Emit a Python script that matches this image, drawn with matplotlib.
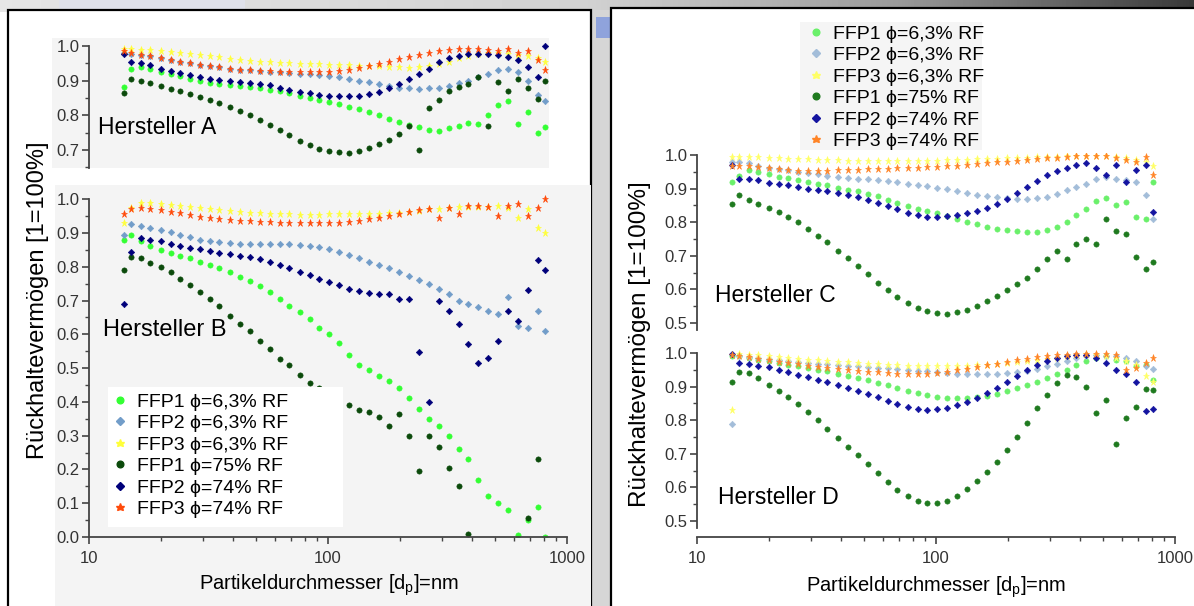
import numpy as np
import matplotlib
matplotlib.use('Agg')  # no display
import matplotlib.pyplot as plt
from matplotlib.patches import Rectangle
from matplotlib.lines import Line2D
from matplotlib.ticker import MultipleLocator, LogLocator, NullFormatter, FixedLocator

plt.rcParams['font.family'] = ['Liberation Sans', 'DejaVu Sans']

W, H = 1194, 606
nan = np.nan

# particle diameter in nm (shared by all panels)
diameter = [14, 15, 16.5, 18, 20, 22, 24, 26.5, 29, 32,
            35, 39, 43, 47, 52, 57, 63, 69, 76, 84,
            92, 101, 111, 122, 135, 148, 163, 180, 198, 218,
            240, 264, 290, 320, 352, 387, 426, 469, 516, 568,
            625, 688, 757, 810]

series_labels = ['FFP1 ϕ=6,3% RF', 'FFP2 ϕ=6,3% RF', 'FFP3 ϕ=6,3% RF',
                 'FFP1 ϕ=75% RF', 'FFP2 ϕ=74% RF', 'FFP3 ϕ=74% RF']

# Hersteller A
a_ffp1_63 = [0.883, 0.935, 0.94, 0.935, 0.925, 0.918, 0.912, 0.905, 0.898, 0.893,
             0.89, 0.887, 0.884, 0.881, 0.878, 0.874, 0.869, 0.864, 0.857, 0.85,
             0.845, 0.838, 0.832, 0.825, 0.818, 0.81, 0.8, 0.79, 0.782, 0.773,
             0.765, 0.758, 0.755, 0.762, 0.77, 0.778, 0.775, 0.8, 0.83, 0.84,
             0.775, 0.81, 0.75, 0.765]
a_ffp2_63 = [0.98, 0.978, 0.975, 0.97, 0.965, 0.96, 0.955, 0.95, 0.946, 0.942,
             0.938, 0.935, 0.932, 0.93, 0.928, 0.926, 0.924, 0.922, 0.92, 0.918,
             0.916, 0.914, 0.91, 0.905, 0.9, 0.895, 0.89, 0.885, 0.88, 0.878,
             0.877, 0.878, 0.88, 0.885, 0.892, 0.9, 0.91, 0.92, 0.93, 0.935,
             0.925, 0.9, 0.86, 0.84]
a_ffp3_63 = [0.99, 0.99, 0.988, 0.987, 0.985, 0.982, 0.979, 0.976, 0.973, 0.97,
             0.967, 0.963, 0.96, 0.957, 0.955, 0.953, 0.951, 0.95, 0.949, 0.948,
             0.947, 0.946, 0.945, 0.944, 0.943, 0.942, 0.941, 0.94, 0.938, 0.937,
             0.938, 0.942, 0.948, 0.955, 0.965, 0.972, 0.978, 0.98, 0.98, 0.978,
             0.975, 0.97, 0.965, 0.955]
a_ffp1_75 = [0.865, 0.905, 0.9, 0.893, 0.885, 0.877, 0.87, 0.862, 0.853, 0.844,
             0.835, 0.824, 0.812, 0.8, 0.787, 0.773, 0.757, 0.742, 0.727, 0.713,
             0.703, 0.697, 0.693, 0.692, 0.696, 0.705, 0.717, 0.73, 0.745, 0.77,
             0.7, 0.82, 0.845, 0.87, 0.882, 0.89, 0.91, 0.77, 0.895, 0.87,
             0.905, 0.88, 0.848, 0.9]
a_ffp2_74 = [0.976, 0.955, 0.952, 0.945, 0.935, 0.928, 0.922, 0.916, 0.91, 0.906,
             0.903, 0.9, 0.897, 0.894, 0.891, 0.886, 0.88, 0.874, 0.868, 0.863,
             0.859, 0.857, 0.855, 0.855, 0.857, 0.862, 0.868, 0.878, 0.89, 0.905,
             0.92, 0.935, 0.955, 0.965, 0.972, 0.976, 0.978, 0.976, 0.975, 0.968,
             0.96, 0.94, 0.91, 1.0]
a_ffp3_74 = [0.985, 0.98, 0.975, 0.97, 0.965, 0.96, 0.955, 0.95, 0.946, 0.942,
             0.938, 0.935, 0.932, 0.93, 0.928, 0.927, 0.926, 0.925, 0.925, 0.925,
             0.925, 0.926, 0.928, 0.932, 0.937, 0.942, 0.948, 0.955, 0.962, 0.968,
             0.974, 0.98, 0.985, 0.988, 0.99, 0.99, 0.99, 0.988, 0.985, 0.99,
             0.98, 0.985, 0.96, 0.93]

# Hersteller B
b_ffp1_63 = [0.878, 0.895, 0.875, 0.862, 0.85, 0.84, 0.832, 0.825, 0.815, 0.805,
             0.795, 0.783, 0.77, 0.757, 0.742, 0.725, 0.705, 0.685, 0.665, 0.645,
             0.62, 0.6, 0.575, 0.54, 0.51, 0.495, 0.478, 0.462, 0.44, 0.41,
             0.38, 0.35, 0.33, 0.3, 0.26, 0.23, 0.17, 0.12, 0.1, 0.08,
             0.005, 0.05, 0.09, 0.0]
b_ffp2_63 = [0.895, 0.925, 0.922, 0.915, 0.91, 0.902, 0.895, 0.888, 0.88, 0.875,
             0.872, 0.87, 0.868, 0.867, 0.866, 0.866, 0.866, 0.866, 0.865, 0.862,
             0.858, 0.853, 0.845, 0.835, 0.825, 0.815, 0.805, 0.795, 0.783, 0.772,
             0.76, 0.748, 0.735, 0.72, 0.7, 0.69, 0.68, 0.67, 0.66, 0.71,
             0.625, 0.62, 0.67, 0.61]
b_ffp3_63 = [0.93, 0.975, 0.99, 0.99, 0.987, 0.984, 0.981, 0.978, 0.975, 0.972,
             0.969, 0.966, 0.963, 0.96, 0.958, 0.956, 0.955, 0.955, 0.954, 0.954,
             0.954, 0.955, 0.955, 0.955, 0.956, 0.956, 0.957, 0.958, 0.96, 0.963,
             0.966, 0.97, 0.972, 0.975, 0.976, 0.977, 0.978, 0.978, 0.98, 0.975,
             0.945, 0.97, 0.915, 0.9]
b_ffp1_75 = [0.79, 0.83, 0.825, 0.812, 0.8, 0.785, 0.765, 0.745, 0.725, 0.705,
             0.685, 0.655, 0.63, 0.61, 0.58, 0.555, 0.527, 0.51, 0.48, 0.455,
             0.44, 0.425, 0.405, 0.39, 0.375, 0.37, 0.355, 0.33, 0.365, 0.3,
             0.195, 0.3, 0.267, 0.205, 0.15, 0.01, nan, nan, nan, nan,
             nan, 0.055, 0.23, nan]
b_ffp2_74 = [0.69, 0.845, 0.885, 0.88, 0.875, 0.868, 0.862, 0.856, 0.851, 0.846,
             0.842, 0.838, 0.833, 0.828, 0.822, 0.815, 0.805, 0.795, 0.785, 0.775,
             0.765, 0.755, 0.745, 0.735, 0.727, 0.722, 0.72, 0.72, 0.705, 0.705,
             0.547, 0.4, 0.7, 0.67, 0.63, 0.57, 0.515, 0.53, 0.58, 0.67,
             0.64, 0.73, 0.82, 0.79]
b_ffp3_74 = [0.955, 0.972, 0.973, 0.971, 0.968, 0.963, 0.958, 0.953, 0.948, 0.944,
             0.941, 0.938, 0.936, 0.934, 0.932, 0.931, 0.93, 0.929, 0.928, 0.928,
             0.928, 0.929, 0.93, 0.932, 0.936, 0.94, 0.945, 0.95, 0.956, 0.962,
             0.967, 0.97, 0.945, 0.975, 0.955, 0.98, 0.98, 0.978, 0.95, 0.98,
             0.985, 0.95, 0.975, 1.0]

# Hersteller C
c_ffp1_63 = [0.92, 0.937, 0.955, 0.95, 0.942, 0.936, 0.932, 0.927, 0.92, 0.915,
             0.91, 0.903, 0.897, 0.892, 0.885, 0.877, 0.867, 0.856, 0.847, 0.84,
             0.833, 0.826, 0.818, 0.81, 0.802, 0.795, 0.786, 0.78, 0.776, 0.774,
             0.772, 0.772, 0.778, 0.786, 0.8, 0.82, 0.84, 0.862, 0.873, 0.85,
             0.86, 0.815, 0.81, 0.92]
c_ffp2_63 = [0.978, 0.978, 0.975, 0.968, 0.962, 0.958, 0.954, 0.95, 0.946, 0.942,
             0.939, 0.936, 0.933, 0.93, 0.928, 0.925, 0.922, 0.919, 0.915, 0.911,
             0.907, 0.903, 0.898, 0.892, 0.886, 0.881, 0.878, 0.875, 0.872, 0.87,
             0.87, 0.872, 0.876, 0.885, 0.895, 0.905, 0.915, 0.93, 0.935, 0.93,
             0.925, 0.92, 0.88, 0.81]
c_ffp3_63 = [0.995, 0.995, 0.994, 0.993, 0.992, 0.99, 0.989, 0.988, 0.987, 0.986,
             0.985, 0.984, 0.983, 0.982, 0.982, 0.981, 0.981, 0.981, 0.981, 0.982,
             0.982, 0.983, 0.984, 0.985, 0.986, 0.987, 0.988, 0.989, 0.99, 0.991,
             0.992, 0.993, 0.994, 0.995, 0.996, 0.997, 0.997, 0.997, 0.996, 0.995,
             0.99, 0.985, 0.98, 0.966]
c_ffp1_75 = [0.853, 0.882, 0.865, 0.855, 0.843, 0.83, 0.815, 0.8, 0.78, 0.76,
             0.74, 0.715, 0.692, 0.67, 0.645, 0.62, 0.598, 0.578, 0.56, 0.545,
             0.535, 0.53, 0.528, 0.532, 0.54, 0.55, 0.565, 0.58, 0.598, 0.615,
             0.635, 0.66, 0.69, 0.715, 0.69, 0.735, 0.75, 0.735, 0.81, 0.775,
             0.765, 0.696, 0.66, 0.68]
c_ffp2_74 = [0.97, 0.928, 0.93, 0.925, 0.918, 0.914, 0.911, 0.906, 0.9, 0.895,
             0.892, 0.888, 0.882, 0.875, 0.866, 0.857, 0.847, 0.838, 0.828, 0.82,
             0.816, 0.815, 0.817, 0.822, 0.827, 0.833, 0.842, 0.855, 0.87, 0.888,
             0.905, 0.922, 0.94, 0.953, 0.962, 0.97, 0.975, 0.96, 0.94, 0.97,
             0.92, 0.955, 0.97, 0.83]
c_ffp3_74 = [0.966, 0.968, 0.968, 0.965, 0.962, 0.958, 0.955, 0.953, 0.952, 0.952,
             0.953, 0.954, 0.955, 0.956, 0.957, 0.958, 0.959, 0.96, 0.961, 0.962,
             0.963, 0.965, 0.966, 0.968, 0.97, 0.972, 0.975, 0.978, 0.98, 0.983,
             0.986, 0.988, 0.99, 0.992, 0.994, 0.996, 0.997, 0.997, 0.996, 0.99,
             0.985, 0.98, 0.995, 0.94]

# Hersteller D
d_ffp1_63 = [0.992, 0.99, 0.985, 0.98, 0.975, 0.97, 0.965, 0.96, 0.955, 0.95,
             0.945, 0.938, 0.932, 0.926, 0.92, 0.912, 0.904, 0.897, 0.888, 0.88,
             0.874, 0.869, 0.866, 0.865, 0.866, 0.869, 0.873, 0.879, 0.887, 0.895,
             0.905, 0.915, 0.925, 0.937, 0.95, 0.963, 0.975, 0.985, 0.99, 0.98,
             0.975, 0.96, 0.965, 0.919]
d_ffp2_63 = [0.788, 0.99, 0.988, 0.985, 0.982, 0.979, 0.976, 0.973, 0.97, 0.968,
             0.966, 0.964, 0.962, 0.96, 0.958, 0.956, 0.954, 0.952, 0.95, 0.947,
             0.945, 0.943, 0.941, 0.939, 0.938, 0.938, 0.938, 0.939, 0.94, 0.942,
             0.946, 0.952, 0.96, 0.968, 0.976, 0.984, 0.99, 0.993, 0.99, 0.99,
             0.985, 0.975, 0.96, 0.953]
d_ffp3_63 = [0.83, 0.997, 0.995, 0.993, 0.99, 0.988, 0.986, 0.983, 0.98, 0.978,
             0.976, 0.974, 0.972, 0.97, 0.968, 0.966, 0.965, 0.963, 0.962, 0.961,
             0.96, 0.96, 0.96, 0.961, 0.962, 0.963, 0.965, 0.967, 0.97, 0.973,
             0.976, 0.979, 0.982, 0.985, 0.99, 0.995, 0.997, 0.995, 0.99, 0.985,
             0.975, 0.965, 0.933, 0.914]
d_ffp1_75 = [0.914, 0.943, 0.94, 0.925, 0.905, 0.887, 0.868, 0.848, 0.825, 0.8,
             0.775, 0.748, 0.72, 0.695, 0.668, 0.642, 0.615, 0.593, 0.575, 0.56,
             0.552, 0.552, 0.56, 0.575, 0.595, 0.618, 0.645, 0.675, 0.71, 0.75,
             0.792, 0.835, 0.875, 0.91, 0.935, 0.93, 0.9, 0.82, 0.86, 0.728,
             0.806, 0.84, 0.894, 0.89]
d_ffp2_74 = [0.997, 0.97, 0.967, 0.962, 0.957, 0.95, 0.943, 0.936, 0.928, 0.92,
             0.913, 0.905, 0.897, 0.888, 0.879, 0.868, 0.857, 0.847, 0.838, 0.833,
             0.831, 0.832, 0.837, 0.845, 0.855, 0.866, 0.88, 0.897, 0.915, 0.933,
             0.95, 0.965, 0.977, 0.985, 0.99, 0.993, 0.993, 0.985, 0.97, 0.95,
             0.938, 0.914, 0.826, 0.833]
d_ffp3_74 = [0.995, 0.99, 0.987, 0.983, 0.978, 0.974, 0.97, 0.966, 0.962, 0.958,
             0.955, 0.952, 0.949, 0.946, 0.944, 0.942, 0.94, 0.939, 0.938, 0.938,
             0.939, 0.941, 0.944, 0.948, 0.953, 0.958, 0.963, 0.968, 0.973, 0.978,
             0.983, 0.987, 0.99, 0.993, 0.995, 0.997, 0.997, 0.997, 0.996, 0.995,
             0.948, 0.955, 0.97, 0.985]

markers = ['o', 'D', '*', 'o', 'D', '*']
msizes = [3.8, 3.3, 5.2, 3.8, 3.3, 5.2]
colors_left = ['#33ff33', '#729dc9', '#ffff3a', '#0b4a0b', '#00007a', '#ff4a0a']
colors_right = ['#6af06a', '#a3bdd9', '#ffff66', '#1f7a1f', '#1414a0', '#ff8426']


def box(l, t, r, b):
    return [l / W, 1 - b / H, (r - l) / W, (b - t) / H]


fig = plt.figure(figsize=(W / 100, H / 100), dpi=100)

# screenshot background in pixel coordinates
bg = fig.add_axes([0, 0, 1, 1], zorder=-10)
shade = np.interp(np.arange(W), [0, 590, 900, W], [0.9, 0.82, 0.6, 0.22])
bg.imshow(np.tile(shade, (12, 1)), cmap='gray', vmin=0, vmax=1,
          extent=[0, W, 12, 0], aspect='auto')
bg.add_patch(Rectangle((59, 0), 186, 12, color='#dfe1ea', lw=0))
bg.add_patch(Rectangle((591, 10), 20, 596, color='#d6d6d6', lw=0))
bg.add_patch(Rectangle((596, 17), 15, 21, color='#8fa3dc', lw=0))
bg.add_patch(Rectangle((8, 10), 583, 600, facecolor='white', edgecolor='black', lw=1.6))
bg.add_patch(Rectangle((611, 8), 590, 600, facecolor='white', edgecolor='black', lw=1.6))
bg.add_patch(Rectangle((52, 38), 497, 130, color='#f4f4f4', lw=0))
bg.add_patch(Rectangle((55, 185), 536, 421, color='#f4f4f4', lw=0))
bg.add_patch(Rectangle((800, 22), 182, 128, color='#f5f5f5', lw=0))
bg.set_xlim(0, W)
bg.set_ylim(H, 0)
bg.axis('off')

axA = fig.add_axes(box(89, 38, 567, 168))
axB = fig.add_axes(box(89, 188, 567, 537))
axC = fig.add_axes(box(697, 153, 1175, 330))
axD = fig.add_axes(box(697, 350, 1175, 537))

panels = [
    (axA, [a_ffp1_63, a_ffp2_63, a_ffp3_63, a_ffp1_75, a_ffp2_74, a_ffp3_74], colors_left),
    (axB, [b_ffp1_63, b_ffp2_63, b_ffp3_63, b_ffp1_75, b_ffp2_74, b_ffp3_74], colors_left),
    (axC, [c_ffp1_63, c_ffp2_63, c_ffp3_63, c_ffp1_75, c_ffp2_74, c_ffp3_74], colors_right),
    (axD, [d_ffp1_63, d_ffp2_63, d_ffp3_63, d_ffp1_75, d_ffp2_74, d_ffp3_74], colors_right),
]

for ax, series, cols in panels:
    for vals, m, ms, c in zip(series, markers, msizes, cols):
        ax.plot(diameter, vals, ls='none', marker=m, ms=ms, color=c, mec=c, mew=0.4)
    ax.set_xscale('log')
    ax.set_xlim(10, 1000)
    ax.set_facecolor('none')
    for s in ['top', 'right']:
        ax.spines[s].set_visible(False)
    for s in ['left', 'bottom']:
        ax.spines[s].set_color('#444444')
        ax.spines[s].set_linewidth(1.3)
    ax.tick_params(which='major', direction='out', length=5, width=1.2,
                   colors='#444444', labelcolor='#333333', labelsize=12, pad=2)
    ax.tick_params(which='minor', direction='out', length=3, width=1.0, colors='#444444')

# top panels without x axis
for ax in [axA, axC]:
    ax.spines['bottom'].set_visible(False)
    ax.tick_params(axis='x', which='both', bottom=False, labelbottom=False)

ticks_hi = [0.5, 0.6, 0.7, 0.8, 0.9, 1.0]
minor_hi = [0.55, 0.65, 0.75, 0.85, 0.95]

axA.set_ylim(0.648, 1.023)
axA.spines['left'].set_bounds(0.648, 1.0)
axA.set_yticks(ticks_hi[2:], ['%.1f' % v for v in ticks_hi[2:]])
axA.yaxis.set_minor_locator(FixedLocator(minor_hi[1:]))

axB.set_ylim(0, 1.033)
axB.spines['left'].set_bounds(0, 1.0)
axB.set_yticks(np.round(np.arange(0, 1.01, 0.1), 1),
               ['%.1f' % v for v in np.arange(0, 1.01, 0.1)])
axB.yaxis.set_minor_locator(MultipleLocator(0.05))

axC.set_ylim(0.479, 1.006)
axD.set_ylim(0.452, 1.009)
for ax in [axC, axD]:
    ax.spines['left'].set_bounds(0.479, 1.0)
    ax.set_yticks(ticks_hi, ['%.1f' % v for v in ticks_hi])
    ax.yaxis.set_minor_locator(FixedLocator(minor_hi))

for ax in [axB, axD]:
    ax.set_xticks([10, 100, 1000], ['10', '100', '1000'])
    ax.xaxis.set_minor_locator(LogLocator(base=10, subs=np.arange(2, 10)))
    ax.xaxis.set_minor_formatter(NullFormatter())
    ax.tick_params(axis='x', which='major', pad=5)

# panel names
fig.text(98 / W, 1 - 128 / H, 'Hersteller A', fontsize=16.5, va='center')
fig.text(103 / W, 1 - 330 / H, 'Hersteller B', fontsize=17, va='center')
fig.text(715 / W, 1 - 296 / H, 'Hersteller C', fontsize=16.5, va='center')
fig.text(718 / W, 1 - 497 / H, 'Hersteller D', fontsize=16.5, va='center')

ylab = 'Rückhaltevermögen [1=100%]'
xlab = r'Partikeldurchmesser [d$_\mathregular{p}$]=nm'
fig.text(38 / W, 1 - 300 / H, ylab, rotation=90, ha='center', va='center', fontsize=17)
fig.text(640 / W, 1 - 344 / H, ylab, rotation=90, ha='center', va='center', fontsize=17.5)
fig.text(329 / W, 1 - 585 / H, xlab, ha='center', va='center', fontsize=14.5)
fig.text(936 / W, 1 - 587 / H, xlab, ha='center', va='center', fontsize=14.5)

# legends
fig.add_artist(Rectangle((108 / W, 1 - 527 / H), 235 / W, 140 / H,
                         transform=fig.transFigure, color='white', lw=0, zorder=4))


def handles(cols):
    return [Line2D([], [], ls='none', marker=m, ms=ms + 1, color=c, mec=c)
            for m, ms, c in zip(markers, msizes, cols)]


leg_kw = dict(loc='upper left', frameon=False, fontsize=14, labelspacing=0.2,
              handlelength=0.8, handletextpad=0.5, borderpad=0, borderaxespad=0)
legL = fig.legend(handles(colors_left), series_labels,
                  bbox_to_anchor=(112 / W, 1 - 393 / H), **leg_kw)
legL.set_zorder(6)
legR = fig.legend(handles(colors_right), series_labels,
                  bbox_to_anchor=(808 / W, 1 - 25 / H), **leg_kw)
legR.set_zorder(6)

fig.savefig('out.png', dpi=100)
plt.close(fig)
